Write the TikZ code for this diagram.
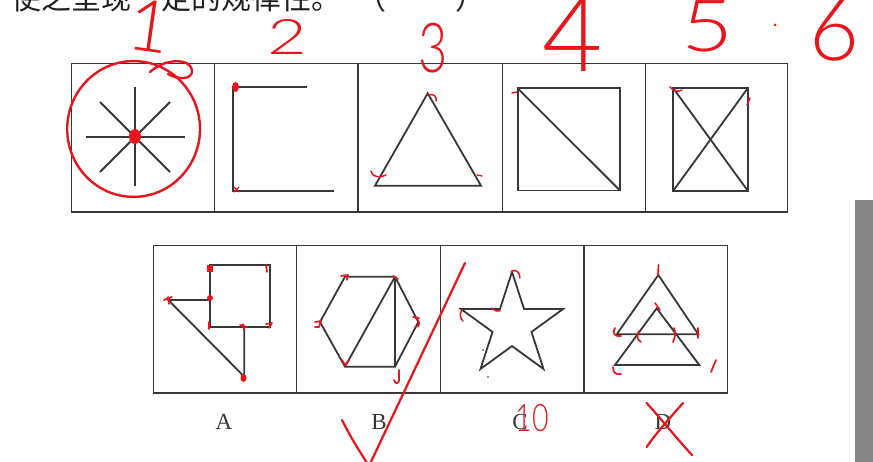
\documentclass[tikz,border=0pt]{standalone}
\usepackage{fontspec}
\usetikzlibrary{calc}
\setmainfont{Liberation Serif}
\newfontfamily\cjkfont{Noto Sans CJK SC}
\newfontfamily\handfont{Lato Light}
\definecolor{penred}{RGB}{232,22,28}
\definecolor{ink}{RGB}{55,55,55}
\definecolor{barg}{RGB}{134,134,134}
\begin{document}
\begin{tikzpicture}[x=1pt,y=-1pt,
  figline/.style={draw=ink, line width=1.8pt, line join=miter},
  cellframe/.style={draw=ink, line width=1.6pt},
  pen/.style={draw=penred, line width=2.4pt, line cap=round, line join=round},
  hand/.style={text=penred, inner sep=0pt, anchor=center},
  lab/.style={inner sep=0pt, text=ink, font=\fontsize{23}{23}\selectfont}]
\useasboundingbox (0,0) rectangle (873,462);
\clip (0,0) rectangle (873,462);
\fill[white] (0,0) rectangle (873,462);

% header text (cut off at top)
\node[anchor=base west, inner sep=0pt, text=black!88] (hdr) at (11,9.5)
  {\cjkfont\fontsize{30}{30}\selectfont 使之呈现一定的规律性。};
\node[anchor=base west, inner sep=0pt, text=black!88] (lp) at (356,9.5)
  {\cjkfont\fontsize{30}{30}\selectfont （};
\node[anchor=base west, inner sep=0pt, text=black!88] (rp) at (455,9.5)
  {\cjkfont\fontsize{30}{30}\selectfont ）};

% gray bar at right
\fill[barg] (855,200) rectangle (873,462);

% top row frame
\draw[cellframe] (71.5,63.5) rectangle (787.5,212);
\foreach \xx in {214.3,358,502.3,645.5} \draw[cellframe] (\xx,63.5) -- (\xx,212);

% bottom row frame
\draw[cellframe] (153.5,245.5) rectangle (727.3,392.7);
\foreach \xx in {296.5,440.5,584} \draw[cellframe] (\xx,245.5) -- (\xx,392.7);

% figure 1: eight rays
\foreach \a in {0,45,90,135}
  \draw[figline] ($(135,137)+(\a:49.5)$) -- ($(135,137)+(\a+180:49.5)$);
% figure 2: bracket
\draw[figline] (306.7,86.7) -- (233.3,86.7) -- (233.3,191) -- (334,191);
% figure 3: triangle
\draw[figline] (427.7,93.3) -- (375,185.7) -- (481,185.7) -- cycle;
% figure 4
\draw[figline] (517.7,88.3) rectangle (620,190.5);
\draw[figline] (517.7,88.3) -- (620,190.5);
% figure 5
\draw[figline] (673.3,88.3) rectangle (747.7,190.7);
\draw[figline] (673.3,88.3) -- (747.7,190.7);
\draw[figline] (747.7,88.3) -- (673.3,190.7);

% option A
\draw[figline] (210,265) rectangle (270,326.7);
\draw[figline] (210,300) -- (168.3,300) -- (244.3,376.7) -- (244.3,326.7);
% option B
\draw[figline] (345,276.7) -- (395,276.7) -- (418.3,322) -- (395,366.7) -- (345,366.7) -- (320,322) -- cycle;
\draw[figline] (395,276.7) -- (345,366.7);
\draw[figline] (395,276.7) -- (395,366.7);
% option C: star (y axis points down, so angles are negated)
\draw[figline] (512,325.6) +(-90:53.6) -- +(-126:20.5) -- +(-162:53.6) -- +(-198:20.5) -- +(-234:53.6)
  -- +(-270:20.5) -- +(-306:53.6) -- +(-342:20.5) -- +(-18:53.6) -- +(-54:20.5) -- cycle;
% option D
\draw[figline] (658.3,275) -- (616.7,334.3) -- (698.3,334.3) -- cycle;
\draw[figline] (656.7,308.3) -- (615,365) -- (699.3,365) -- cycle;

% labels
\node[lab] (la) at (224,422) {A};
\node[lab] (lb) at (379,422) {B};
\node[lab] (lc) at (520,422) {C};
\node[lab] (ld) at (663,422) {D};

% ---- red annotations ----
\node[hand, rotate=-8] (n1) at (150,26) {\handfont\fontsize{72}{72}\selectfont 1};
\node[hand] (n2) at (287,37) {\handfont\fontsize{49}{49}\selectfont\scalebox{1.4}[1]{2}};
\node[hand] (n3) at (433,48) {\handfont\fontsize{69}{69}\selectfont\scalebox{0.73}[1]{3}};
\node[hand] (n4) at (573,35) {\handfont\fontsize{104}{104}\selectfont 4};
\node[hand] (n5) at (708,26) {\handfont\fontsize{72}{72}\selectfont\scalebox{1.25}[1]{5}};
\fill[penred] (775,25) circle (1.5);
\node[hand] (n6) at (834,30) {\handfont\fontsize{86}{86}\selectfont 6};
\node[hand] (n10) at (532,418) {\handfont\fontsize{38}{38}\selectfont\scalebox{0.75}[1]{10}};

% circle around figure 1
\draw[pen] (133.6,129) ellipse [x radius=66.4, y radius=67.9];
\draw[pen] (150,72) .. controls (165,58) and (190,58) .. (192,70) .. controls (193,80) and (178,80) .. (168,74);
\fill[penred] (135,136.5) ellipse [x radius=6, y radius=7.5];
\fill[penred] (235.5,87) ellipse [x radius=3.5, y radius=5];
\draw[pen, line width=1.2pt] (234,187) -- (239,192) (239,187) -- (234,192);
\draw[pen, line width=1.5pt] (428,95) .. controls (434,93) and (437,97) .. (436,101);
\draw[pen, line width=1.5pt] (371,171) .. controls (373,178) and (380,178) .. (386,175);
\draw[pen, line width=1.4pt] (477,175) -- (482,176);
\draw[pen, line width=1.4pt] (512,93) -- (517,92);
\draw[pen, line width=1.5pt] (670,87) .. controls (674,92) and (678,92) .. (682,90);
\draw[pen, line width=1.5pt] (750,98) -- (747,105);

% marks on A
\fill[penred] (206.5,265) rectangle (213,272);
\draw[pen, line width=1.7pt] (266,265) -- (267,272);
\fill[penred] (210,298) circle (3);
\draw[pen, line width=1.7pt] (164,300) -- (172,297) (168,297) -- (169,304);
\draw[pen, line width=1.7pt] (209,322) -- (209,329);
\draw[pen, line width=1.7pt] (240,325) -- (247,327) (243,324) -- (244,330);
\draw[pen, line width=1.7pt] (266,324) -- (272,323) -- (269,328);
\fill[penred] (243.5,378) ellipse [x radius=3, y radius=4];
% marks on B
\draw[pen, line width=1.7pt] (341,276) -- (348,275) -- (347,280);
\draw[pen, line width=1.7pt] (393,276) -- (398,279);
\draw[pen, line width=1.7pt] (413,317) -- (419,318) (416,318) .. controls (421,322) and (420,327) .. (415,327);
\draw[pen, line width=1.7pt] (315,322) -- (321,321) -- (319,327) -- (315,327);
\draw[pen, line width=1.7pt] (342,360) -- (345,365) -- (349,360);
\draw[pen, line width=1.7pt] (399,370) -- (399,381) .. controls (398,384) and (395,384) .. (394,380);
% marks on C
\draw[pen, line width=1.5pt] (511,272) .. controls (515,268) and (520,272) .. (520,278);
\draw[pen, line width=1.5pt] (462,310) .. controls (459,314) and (460,318) .. (463,321);
\draw[pen, line width=1.5pt] (492,308) .. controls (495,311) and (498,312) .. (500,311);
\fill[ink] (483,350) circle (0.8);
\fill[ink] (488,377) circle (0.8);
% marks on D
\draw[pen, line width=1.7pt] (658.5,265) -- (658,275);
\draw[pen, line width=1.5pt] (655,303) -- (660,310);
\draw[pen, line width=1.7pt] (615,328) .. controls (612,332) and (614,337) .. (621,336);
\draw[pen, line width=1.7pt] (639,331) .. controls (636,335) and (637,340) .. (641,342);
\draw[pen, line width=1.7pt] (674,328) .. controls (676,333) and (675,338) .. (673,342);
\draw[pen, line width=1.7pt] (698,328) -- (698,338);
\draw[pen, line width=1.7pt] (613,367) .. controls (613,373) and (616,375) .. (621,374);
\draw[pen, line width=1.7pt] (716,360) -- (711,372);

% check mark on B, cross on D
\draw[pen, line width=2.2pt] (342,420) .. controls (352,440) and (362,455) .. (369,466) -- (465,263);
\draw[pen, line width=2.2pt] (646.7,403) .. controls (662,420) and (678,440) .. (692,455);
\draw[pen, line width=2.2pt] (683,403) .. controls (670,418) and (656,433) .. (646.7,447);
\end{tikzpicture}
\end{document}
